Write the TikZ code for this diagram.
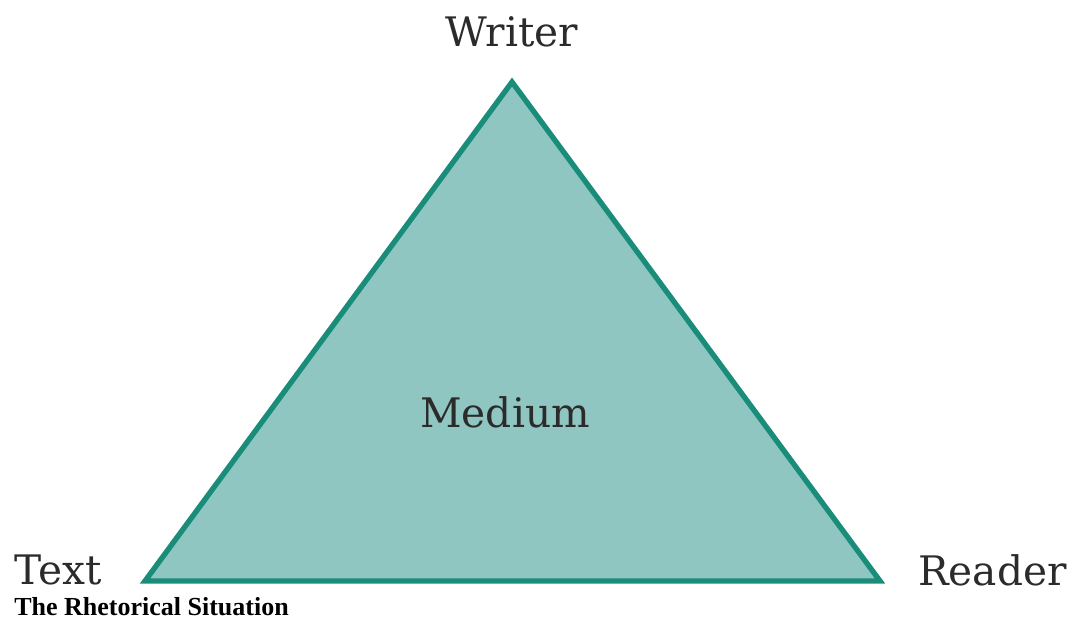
\documentclass[tikz,border=0pt]{standalone}
\usepackage{fontspec}
\setmainfont{DejaVu Serif}
\newfontfamily\capfont{Liberation Serif}
\usepackage{xcolor}
\usepackage{tikz}
\usetikzlibrary{positioning}

\definecolor{tealfill}{HTML}{8FC6C1}
\definecolor{tealline}{HTML}{1A8C7A}
\definecolor{labelgray}{HTML}{2B2B2B}

\tikzset{
  corner/.style={font=\fontsize{30.5}{33}\selectfont, text=labelgray, inner sep=0pt},
  caption/.style={font=\capfont\bfseries\fontsize{19.5}{22}\selectfont, inner sep=0pt, anchor=west}
}

\begin{document}
\begin{tikzpicture}[x=0.75pt,y=-0.75pt]
\useasboundingbox (0,0) rectangle (1067,632);

\coordinate (top) at (512,82);
\coordinate (left) at (145,581);
\coordinate (right) at (880,581);

\filldraw[fill=tealfill,draw=tealline,line width=4pt,line join=miter]
  (top) -- (left) -- (right) -- cycle;

\node[corner] (writer) at (512,32) {Writer};
\node[corner,anchor=east] (text) at (102,570) {Text};
\node[corner,anchor=west] (reader) at (918,570) {Reader};
\node[corner] (medium) at (505,412) {Medium};
\node[caption] (title) at (14,607) {The Rhetorical Situation};
\end{tikzpicture}
\end{document}
